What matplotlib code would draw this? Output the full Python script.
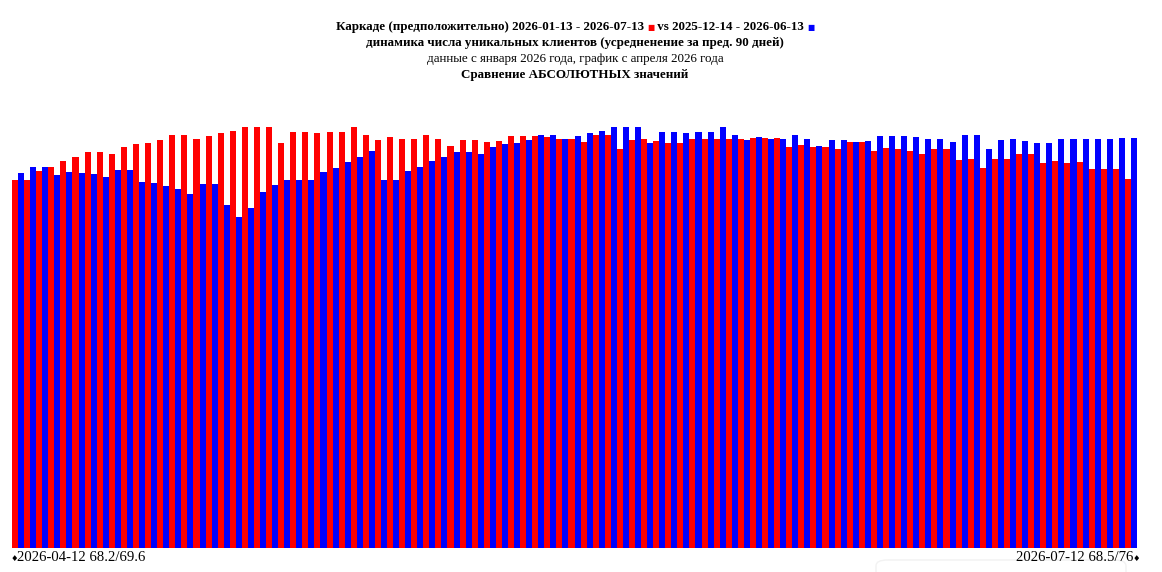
import matplotlib
matplotlib.use('Agg')
import matplotlib.pyplot as plt
from matplotlib.patches import FancyBboxPatch

# data (daily values, 90-day averaged)
red_values = [68.2, 68.2, 69.9, 70.6, 71.7, 72.5, 73.4, 73.4, 73.0, 74.3,
              74.9, 75.1, 75.6, 76.5, 76.5, 75.8, 76.4, 76.9, 77.3, 78.0,
              78.0, 78.0, 75.1, 77.1, 77.1, 76.9, 77.1, 77.1, 78.0, 76.5,
              75.6, 76.2, 75.8, 75.8, 76.5, 75.8, 74.5, 75.6, 75.6, 75.2,
              75.4, 76.4, 76.4, 76.4, 76.2, 75.8, 75.8, 75.2, 76.5, 76.5,
              73.9, 75.6, 75.8, 75.4, 75.1, 75.1, 75.8, 75.8, 75.8, 75.8,
              75.8, 76.0, 76.0, 76.0, 74.3, 74.7, 74.3, 74.3, 73.9, 75.2,
              75.2, 73.6, 74.1, 73.9, 73.6, 73.0, 73.9, 73.9, 71.9, 72.1,
              70.4, 72.1, 72.1, 73.0, 73.0, 71.4, 71.7, 71.4, 71.5, 70.2,
              70.2, 70.2, 68.5]
blue_values = [69.6, 70.6, 70.6, 69.1, 69.7, 69.5, 69.3, 68.8, 70.1, 70.1,
               67.8, 67.6, 67.1, 66.5, 65.6, 67.5, 67.5, 63.6, 61.3, 63.0,
               66.0, 67.3, 68.2, 68.2, 68.2, 69.7, 70.4, 71.5, 72.5, 73.6,
               68.2, 68.2, 69.9, 70.6, 71.7, 72.5, 73.4, 73.4, 73.0, 74.3,
               74.9, 75.1, 75.6, 76.5, 76.5, 75.8, 76.4, 76.9, 77.3, 78.0,
               78.0, 78.0, 75.1, 77.1, 77.1, 76.9, 77.1, 77.1, 78.0, 76.5,
               75.6, 76.2, 75.8, 75.8, 76.5, 75.8, 74.5, 75.6, 75.6, 75.2,
               75.4, 76.4, 76.4, 76.4, 76.2, 75.8, 75.8, 75.2, 76.5, 76.5,
               73.9, 75.6, 75.8, 75.4, 75.1, 75.1, 75.8, 75.8, 75.8, 75.8,
               75.8, 76.0, 76.0]

title_part1 = 'Каркаде (предположительно) 2026-01-13 - 2026-07-13 '
title_part2 = ' vs 2025-12-14 - 2026-06-13 '
subtitle = 'динамика числа уникальных клиентов (усредненение за пред. 90 дней)'
data_note = 'данные с января 2026 года, график с апреля 2026 года'
compare_note = 'Сравнение АБСОЛЮТНЫХ значений'
left_label = '2026-04-12 68.2/69.6'
right_label = '2026-07-12 68.5/76'

RED = '#ff0000'
BLUE = '#0000ff'
serif = ['Liberation Serif', 'DejaVu Serif']

W, H = 1162, 572
fig = plt.figure(figsize=(W / 100, H / 100), dpi=100)

# axes placed in pixel terms: bars from x=12 to 1137, baseline at y=548
ax = fig.add_axes([12 / W, (H - 548) / H, 1125 / W, 438 / H])
idx = list(range(len(red_values)))
ax.bar([i - 0.5 for i in idx], red_values, 0.5, align='edge', color=RED, linewidth=0)
ax.bar(idx, blue_values, 0.5, align='edge', color=BLUE, linewidth=0)
ax.set_xlim(-0.5, len(red_values) - 0.5)
ax.set_ylim(0, 81.2)
ax.axis('off')

# header lines
fs = 9.4
cx = 575 / W
fig.canvas.draw()
renderer = fig.canvas.get_renderer()
y1 = 1 - 30 / H
pieces = [(title_part1, 'black', serif, fs, 'bold'),
          ('■', RED, ['DejaVu Sans'], 5.5, 'normal'),
          (title_part2, 'black', serif, fs, 'bold'),
          ('■', BLUE, ['DejaVu Sans'], 5.5, 'normal')]
texts = []
for s, c, fam, size, weight in pieces:
    t = fig.text(0, y1, s, color=c, family=fam, fontsize=size, fontweight=weight,
                 ha='left', va='baseline')
    texts.append(t)
widths = [t.get_window_extent(renderer).width / W for t in texts]
x = cx - sum(widths) / 2
for t, w in zip(texts, widths):
    t.set_x(x)
    x += w

fig.text(cx, 1 - 46 / H, subtitle, family=serif, fontsize=fs, fontweight='bold',
         ha='center', va='baseline')
fig.text(cx, 1 - 62 / H, data_note, family=serif, fontsize=fs,
         ha='center', va='baseline')
fig.text(cx, 1 - 78 / H, compare_note, family=serif, fontsize=fs, fontweight='bold',
         ha='center', va='baseline')

# bottom labels with small markers
yb = 1 - 561 / H
fig.text(11 / W, yb, '♦', family=['DejaVu Sans'], fontsize=6, ha='left', va='baseline')
fig.text(17 / W, yb, left_label, family=serif, fontsize=10.6, ha='left', va='baseline')
fig.text(1133 / W, yb, right_label, family=serif, fontsize=10.6, ha='right', va='baseline')
fig.text(1133 / W, yb, '♦', family=['DejaVu Sans'], fontsize=6, ha='left', va='baseline')

# faint box at the lower right edge
fig.patches.append(FancyBboxPatch((876 / W, -20 / H), 250 / W, 32 / H,
                                  boxstyle='round,pad=0,rounding_size=0.01',
                                  transform=fig.transFigure, facecolor='none',
                                  edgecolor='#f2f2f2', linewidth=1))

fig.savefig('out.png', dpi=100, facecolor='white')
